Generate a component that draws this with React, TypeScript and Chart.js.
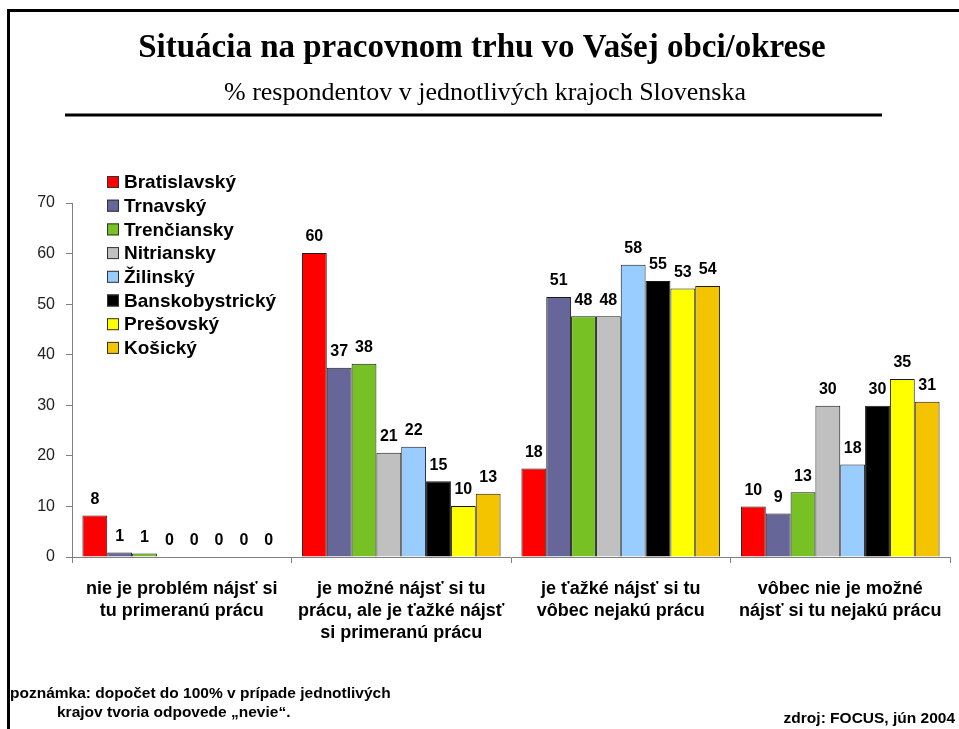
import React, { useEffect, useRef } from "react";
import { Chart, registerables } from "chart.js";

Chart.register(...registerables);

const TITLE = "Situácia na pracovnom trhu vo Vašej obci/okrese";
const SUBTITLE = "% respondentov v jednotlivých krajoch Slovenska";
const NOTE_LINE1 = "poznámka: dopočet do 100% v prípade jednotlivých";
const NOTE_LINE2 = "krajov tvoria odpovede „nevie“.";
const SOURCE = "zdroj: FOCUS, jún 2004";

const categories: string[][] = [
  ["nie je problém nájsť si", "tu primeranú prácu"],
  ["je možné nájsť si tu", "prácu, ale je ťažké nájsť", "si primeranú prácu"],
  ["je ťažké nájsť si tu", "vôbec nejakú prácu"],
  ["vôbec nie je možné", "nájsť si tu nejakú prácu"],
];

const regions = [
  "Bratislavský",
  "Trnavský",
  "Trenčiansky",
  "Nitriansky",
  "Žilinský",
  "Banskobystrický",
  "Prešovský",
  "Košický",
];

const regionColors = [
  "#FF0000",
  "#666699",
  "#78C124",
  "#C0C0C0",
  "#99CCFF",
  "#000000",
  "#FFFF00",
  "#F5C400",
];

const bratislavsky = [8.2, 60.1, 17.5, 10.0];
const trnavsky = [0.9, 37.4, 51.4, 8.6];
const trenciansky = [0.7, 38.2, 47.6, 12.8];
const nitriansky = [0, 20.6, 47.6, 29.9];
const zilinsky = [0, 21.8, 57.8, 18.3];
const banskobystricky = [0, 15.0, 54.6, 29.9];
const presovsky = [0, 10.1, 53.1, 35.2];
const kosicky = [0, 12.5, 53.6, 30.7];

const seriesValues = [
  bratislavsky,
  trnavsky,
  trenciansky,
  nitriansky,
  zilinsky,
  banskobystricky,
  presovsky,
  kosicky,
];

const yTicks = [0, 10, 20, 30, 40, 50, 60, 70];

const SANS = "Arial, 'Liberation Sans', sans-serif";
const SERIF = "'Times New Roman', 'Liberation Serif', serif";

const decorPlugin = {
  id: "decor",
  beforeDraw(chart: any) {
    const ctx = chart.ctx;
    ctx.save();
    ctx.fillStyle = "#ffffff";
    ctx.fillRect(0, 0, chart.width, chart.height);
    ctx.restore();
  },
  afterDraw(chart: any) {
    const ctx = chart.ctx;
    ctx.save();
    // frame
    ctx.strokeStyle = "#000";
    ctx.lineWidth = 3;
    ctx.beginPath();
    ctx.moveTo(8.5, chart.height);
    ctx.lineTo(8.5, 10.5);
    ctx.lineTo(chart.width, 10.5);
    ctx.stroke();

    // title
    ctx.fillStyle = "#000";
    ctx.textAlign = "center";
    ctx.textBaseline = "middle";
    ctx.font = `bold 33px ${SERIF}`;
    ctx.fillText(TITLE, 482, 48);
    ctx.font = `26px ${SERIF}`;
    ctx.fillText(SUBTITLE, 485, 93);

    // rule
    ctx.lineWidth = 3;
    ctx.beginPath();
    ctx.moveTo(65, 115);
    ctx.lineTo(882, 115);
    ctx.stroke();

    // legend
    ctx.textAlign = "left";
    ctx.font = `bold 19px ${SANS}`;
    chart.data.datasets.forEach((ds: any, i: number) => {
      const y = 182 + i * 23.7;
      ctx.fillStyle = ds.backgroundColor;
      ctx.fillRect(107, y - 6, 12, 12);
      ctx.lineWidth = 1;
      ctx.strokeStyle = "#333";
      ctx.strokeRect(107.5, y - 5.5, 11, 11);
      ctx.fillStyle = "#000";
      ctx.fillText(ds.label, 124, y + 1);
    });

    // data labels
    ctx.textAlign = "center";
    ctx.textBaseline = "middle";
    ctx.font = `bold 16px ${SANS}`;
    ctx.fillStyle = "#000";
    chart.data.datasets.forEach((ds: any, i: number) => {
      const meta = chart.getDatasetMeta(i);
      meta.data.forEach((bar: any, j: number) => {
        const v = ds.data[j];
        ctx.fillText(String(Math.round(v)), bar.x, bar.y - 16);
      });
    });

    // notes
    ctx.textAlign = "left";
    ctx.textBaseline = "middle";
    ctx.font = `bold 15.5px ${SANS}`;
    ctx.fillText(NOTE_LINE1, 10, 694);
    ctx.fillText(NOTE_LINE2, 57, 713);
    ctx.textAlign = "right";
    ctx.fillText(SOURCE, 955, 719);
    ctx.restore();
  },
};

export default function App() {
  const ref = useRef<HTMLCanvasElement | null>(null);

  useEffect(() => {
    if (!ref.current) return;
    const chart = new Chart(ref.current, {
      type: "bar",
      data: {
        labels: categories,
        datasets: regions.map((name, i) => ({
          label: name,
          data: seriesValues[i],
          backgroundColor: regionColors[i],
          borderColor: "#1a1a1a",
          borderWidth: 1,
          borderSkipped: "bottom",
          categoryPercentage: 0.905,
          barPercentage: 1.0,
        })),
      },
      options: {
        animation: false,
        responsive: false,
        maintainAspectRatio: false,
        layout: { padding: { left: 8, right: 9, top: 203, bottom: 0 } },
        plugins: {
          legend: { display: false },
          title: { display: false },
          tooltip: { enabled: false },
        },
        scales: {
          x: {
            grid: {
              offset: true,
              drawOnChartArea: false,
              drawTicks: true,
              tickLength: 6,
              color: "#808080",
            },
            border: { color: "#808080", width: 1 },
            ticks: {
              color: "#000",
              font: { family: SANS, size: 18, weight: "bold", lineHeight: 1.22 },
              padding: 15,
              maxRotation: 0,
              autoSkip: false,
            },
            afterFit: (s: any) => {
              s.height = 172;
            },
          },
          y: {
            min: 0,
            max: 70,
            afterBuildTicks: (s: any) => {
              s.ticks = yTicks.map((v) => ({ value: v }));
            },
            grid: {
              drawOnChartArea: false,
              drawTicks: true,
              tickLength: 6,
              color: "#808080",
            },
            border: { color: "#808080", width: 1 },
            ticks: {
              color: "#222",
              font: { family: SANS, size: 16 },
              padding: 11,
            },
            afterFit: (s: any) => {
              s.width = 64;
            },
          },
        },
      },
      plugins: [decorPlugin],
    });
    return () => chart.destroy();
  }, []);

  return (
    <div style={{ position: "absolute", left: 0, top: 0, width: 959, height: 729 }}>
      <canvas ref={ref} width={959} height={729} style={{ width: 959, height: 729, display: "block" }} />
    </div>
  );
}
